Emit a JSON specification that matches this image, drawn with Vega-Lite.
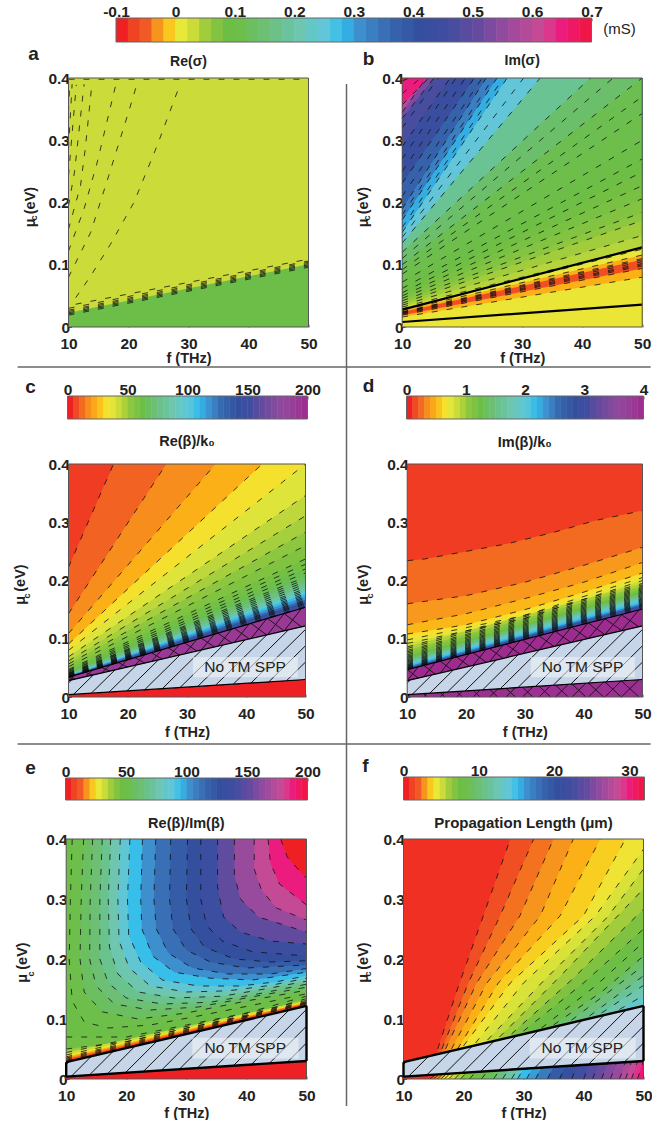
{"$schema":"https://vega.github.io/schema/vega-lite/v6.json","bounds":"flush","columns":2,"spacing":0,"padding":{"left":12.5,"top":4,"right":0,"bottom":0},
"resolve":{"scale":{"color":"independent","x":"independent","y":"independent"}},
"config":{"view":{"stroke":null},"font":"Liberation Sans","axis":{"labelFont":"Liberation Sans","labelFontWeight":"bold","labelFontSize":15.5,"labelColor":"#222","titleFont":"Liberation Sans","titleFontWeight":"bold","titleFontSize":14.5,"titleColor":"#222","domain":false,"grid":false,"tickColor":"#333","tickSize":-3,"tickWidth":0.8,"labelOverlap":false,"labelFlush":false}},
"datasets":{
"top":[{"a":-0.1,"b":-0.08},{"a":-0.08,"b":-0.06},{"a":-0.06,"b":-0.04},{"a":-0.04,"b":-0.02},{"a":-0.02,"b":0},{"a":0,"b":0.02},{"a":0.02,"b":0.04},{"a":0.04,"b":0.06},{"a":0.06,"b":0.08},{"a":0.08,"b":0.1},{"a":0.1,"b":0.12},{"a":0.12,"b":0.14},{"a":0.14,"b":0.16},{"a":0.16,"b":0.18},{"a":0.18,"b":0.2},{"a":0.2,"b":0.22},{"a":0.22,"b":0.24},{"a":0.24,"b":0.26},{"a":0.26,"b":0.28},{"a":0.28,"b":0.3},{"a":0.3,"b":0.32},{"a":0.32,"b":0.34},{"a":0.34,"b":0.36},{"a":0.36,"b":0.38},{"a":0.38,"b":0.4},{"a":0.4,"b":0.42},{"a":0.42,"b":0.44},{"a":0.44,"b":0.46},{"a":0.46,"b":0.48},{"a":0.48,"b":0.5},{"a":0.5,"b":0.52},{"a":0.52,"b":0.54},{"a":0.54,"b":0.56},{"a":0.56,"b":0.58},{"a":0.58,"b":0.6},{"a":0.6,"b":0.62},{"a":0.62,"b":0.64},{"a":0.64,"b":0.66},{"a":0.66,"b":0.68},{"a":0.68,"b":0.7}],
"s200":[{"a":0,"b":5},{"a":5,"b":10},{"a":10,"b":15},{"a":15,"b":20},{"a":20,"b":25},{"a":25,"b":30},{"a":30,"b":35},{"a":35,"b":40},{"a":40,"b":45},{"a":45,"b":50},{"a":50,"b":55},{"a":55,"b":60},{"a":60,"b":65},{"a":65,"b":70},{"a":70,"b":75},{"a":75,"b":80},{"a":80,"b":85},{"a":85,"b":90},{"a":90,"b":95},{"a":95,"b":100},{"a":100,"b":105},{"a":105,"b":110},{"a":110,"b":115},{"a":115,"b":120},{"a":120,"b":125},{"a":125,"b":130},{"a":130,"b":135},{"a":135,"b":140},{"a":140,"b":145},{"a":145,"b":150},{"a":150,"b":155},{"a":155,"b":160},{"a":160,"b":165},{"a":165,"b":170},{"a":170,"b":175},{"a":175,"b":180},{"a":180,"b":185},{"a":185,"b":190},{"a":190,"b":195},{"a":195,"b":200}],
"s4":[{"a":0,"b":0.1},{"a":0.1,"b":0.2},{"a":0.2,"b":0.3},{"a":0.3,"b":0.4},{"a":0.4,"b":0.5},{"a":0.5,"b":0.6},{"a":0.6,"b":0.7},{"a":0.7,"b":0.8},{"a":0.8,"b":0.9},{"a":0.9,"b":1},{"a":1,"b":1.1},{"a":1.1,"b":1.2},{"a":1.2,"b":1.3},{"a":1.3,"b":1.4},{"a":1.4,"b":1.5},{"a":1.5,"b":1.6},{"a":1.6,"b":1.7},{"a":1.7,"b":1.8},{"a":1.8,"b":1.9},{"a":1.9,"b":2},{"a":2,"b":2.1},{"a":2.1,"b":2.2},{"a":2.2,"b":2.3},{"a":2.3,"b":2.4},{"a":2.4,"b":2.5},{"a":2.5,"b":2.6},{"a":2.6,"b":2.7},{"a":2.7,"b":2.8},{"a":2.8,"b":2.9},{"a":2.9,"b":3},{"a":3,"b":3.1},{"a":3.1,"b":3.2},{"a":3.2,"b":3.3},{"a":3.3,"b":3.4},{"a":3.4,"b":3.5},{"a":3.5,"b":3.6},{"a":3.6,"b":3.7},{"a":3.7,"b":3.8},{"a":3.8,"b":3.9},{"a":3.9,"b":4}],
"s32":[{"a":0,"b":0.8},{"a":0.8,"b":1.6},{"a":1.6,"b":2.4},{"a":2.4,"b":3.2},{"a":3.2,"b":4},{"a":4,"b":4.8},{"a":4.8,"b":5.6},{"a":5.6,"b":6.4},{"a":6.4,"b":7.2},{"a":7.2,"b":8},{"a":8,"b":8.8},{"a":8.8,"b":9.6},{"a":9.6,"b":10.4},{"a":10.4,"b":11.2},{"a":11.2,"b":12},{"a":12,"b":12.8},{"a":12.8,"b":13.6},{"a":13.6,"b":14.4},{"a":14.4,"b":15.2},{"a":15.2,"b":16},{"a":16,"b":16.8},{"a":16.8,"b":17.6},{"a":17.6,"b":18.4},{"a":18.4,"b":19.2},{"a":19.2,"b":20},{"a":20,"b":20.8},{"a":20.8,"b":21.6},{"a":21.6,"b":22.4},{"a":22.4,"b":23.2},{"a":23.2,"b":24},{"a":24,"b":24.8},{"a":24.8,"b":25.6},{"a":25.6,"b":26.4},{"a":26.4,"b":27.2},{"a":27.2,"b":28},{"a":28,"b":28.8},{"a":28.8,"b":29.6},{"a":29.6,"b":30.4},{"a":30.4,"b":31.2},{"a":31.2,"b":32}],
"frame":[{"f":10,"m":0,"f2":50,"m2":0},{"f":10,"m":0.4,"f2":50,"m2":0.4},{"f":10,"m":0,"f2":10,"m2":0.4},{"f":50,"m":0,"f2":50,"m2":0.4}],
"box":[{"f":31,"f2":48.7,"m":0.034,"m2":0.0686}],
"notm":[{"f":39.8,"m":0.051,"t":"No TM SPP"}],
"tz":[{"f":10,"m":0.028,"m2":0.004},{"f":50,"m":0.122,"m2":0.03}],
"hatch":[{"f":10,"m":0.024,"f2":10.52,"m2":0.0292},{"f":10.856,"m":0.00456,"f2":14.18,"m2":0.0378},{"f":13.85,"m":0.0065,"f2":17.84,"m2":0.0464},{"f":16.84,"m":0.0084,"f2":21.5,"m2":0.055},{"f":19.84,"m":0.0104,"f2":25.16,"m2":0.0636},{"f":22.83,"m":0.0123,"f2":28.82,"m2":0.0722},{"f":25.83,"m":0.0143,"f2":32.48,"m2":0.0808},{"f":28.82,"m":0.0162,"f2":36.14,"m2":0.0894},{"f":31.82,"m":0.0182,"f2":39.8,"m2":0.098},{"f":34.81,"m":0.0201,"f2":43.46,"m2":0.1066},{"f":37.81,"m":0.0221,"f2":47.12,"m2":0.1152},{"f":40.8,"m":0.024,"f2":50,"m2":0.116},{"f":43.8,"m":0.026,"f2":50,"m2":0.088},{"f":46.79,"m":0.0279,"f2":50,"m2":0.06},{"f":49.79,"m":0.0299,"f2":50,"m2":0.032}],
"xc":[{"f":10,"m":0.028,"f2":11.1,"m2":0.0373},{"f":10,"m":0.034,"f2":11.1,"m2":0.0306},{"f":12.8,"m":0.0346,"f2":14.04,"m2":0.0461},{"f":12.8,"m":0.0424,"f2":14.04,"m2":0.0375},{"f":15.6,"m":0.0412,"f2":16.98,"m2":0.0549},{"f":15.6,"m":0.0508,"f2":16.98,"m2":0.0444},{"f":18.4,"m":0.0477,"f2":19.92,"m2":0.0638},{"f":18.4,"m":0.0592,"f2":19.92,"m2":0.0513},{"f":21.2,"m":0.0543,"f2":22.86,"m2":0.0726},{"f":21.2,"m":0.0676,"f2":22.86,"m2":0.0582},{"f":24,"m":0.0609,"f2":25.8,"m2":0.0814},{"f":24,"m":0.076,"f2":25.8,"m2":0.0651},{"f":26.8,"m":0.0675,"f2":28.74,"m2":0.0902},{"f":26.8,"m":0.0844,"f2":28.74,"m2":0.072},{"f":29.6,"m":0.0741,"f2":31.68,"m2":0.099},{"f":29.6,"m":0.0928,"f2":31.68,"m2":0.0789},{"f":32.4,"m":0.0806,"f2":34.62,"m2":0.1079},{"f":32.4,"m":0.1012,"f2":34.62,"m2":0.0859},{"f":35.2,"m":0.0872,"f2":37.56,"m2":0.1167},{"f":35.2,"m":0.1096,"f2":37.56,"m2":0.0928},{"f":38,"m":0.0938,"f2":40.5,"m2":0.1255},{"f":38,"m":0.118,"f2":40.5,"m2":0.0997},{"f":40.8,"m":0.1004,"f2":43.44,"m2":0.1343},{"f":40.8,"m":0.1264,"f2":43.44,"m2":0.1066},{"f":43.6,"m":0.107,"f2":46.38,"m2":0.1431},{"f":43.6,"m":0.1348,"f2":46.38,"m2":0.1135},{"f":46.4,"m":0.1135,"f2":49.32,"m2":0.152},{"f":46.4,"m":0.1432,"f2":49.32,"m2":0.1204}],
"xd":[{"f":10,"m":0.028,"f2":11.9,"m2":0.0519},{"f":10,"m":0.047,"f2":11.9,"m2":0.0325},{"f":12.8,"m":0.0346,"f2":14.78,"m2":0.0594},{"f":12.8,"m":0.0543,"f2":14.78,"m2":0.0392},{"f":15.6,"m":0.0412,"f2":17.67,"m2":0.0669},{"f":15.6,"m":0.0616,"f2":17.67,"m2":0.046},{"f":18.4,"m":0.0477,"f2":20.55,"m2":0.0744},{"f":18.4,"m":0.0688,"f2":20.55,"m2":0.0528},{"f":21.2,"m":0.0543,"f2":23.44,"m2":0.0819},{"f":21.2,"m":0.0761,"f2":23.44,"m2":0.0596},{"f":24,"m":0.0609,"f2":26.32,"m2":0.0894},{"f":24,"m":0.0834,"f2":26.32,"m2":0.0664},{"f":26.8,"m":0.0675,"f2":29.2,"m2":0.0969},{"f":26.8,"m":0.0907,"f2":29.2,"m2":0.0731},{"f":29.6,"m":0.0741,"f2":32.09,"m2":0.1044},{"f":29.6,"m":0.098,"f2":32.09,"m2":0.0799},{"f":32.4,"m":0.0806,"f2":34.97,"m2":0.1119},{"f":32.4,"m":0.1052,"f2":34.97,"m2":0.0867},{"f":35.2,"m":0.0872,"f2":37.86,"m2":0.1194},{"f":35.2,"m":0.1125,"f2":37.86,"m2":0.0935},{"f":38,"m":0.0938,"f2":40.74,"m2":0.1269},{"f":38,"m":0.1198,"f2":40.74,"m2":0.1002},{"f":40.8,"m":0.1004,"f2":43.62,"m2":0.1344},{"f":40.8,"m":0.1271,"f2":43.62,"m2":0.107},{"f":43.6,"m":0.107,"f2":46.51,"m2":0.1419},{"f":43.6,"m":0.1344,"f2":46.51,"m2":0.1138},{"f":46.4,"m":0.1135,"f2":49.39,"m2":0.1494},{"f":46.4,"m":0.1416,"f2":49.39,"m2":0.1206},
{"f":10,"m":0,"f2":10.4,"m2":0.00426},{"f":10,"m":0.004,"f2":10.4,"m2":0},{"f":12.8,"m":0,"f2":13.4,"m2":0.0062},{"f":12.8,"m":0.0058,"f2":13.4,"m2":0},{"f":15.6,"m":0,"f2":16.4,"m2":0.0082},{"f":15.6,"m":0.0076,"f2":16.4,"m2":0},{"f":18.4,"m":0,"f2":19.4,"m2":0.0101},{"f":18.4,"m":0.0095,"f2":19.4,"m2":0},{"f":21.2,"m":0,"f2":22.4,"m2":0.0121},{"f":21.2,"m":0.0113,"f2":22.4,"m2":0},{"f":24,"m":0,"f2":25.4,"m2":0.014},{"f":24,"m":0.0131,"f2":25.4,"m2":0},{"f":26.8,"m":0,"f2":28.4,"m2":0.016},{"f":26.8,"m":0.0149,"f2":28.4,"m2":0},{"f":29.6,"m":0,"f2":31.4,"m2":0.0179},{"f":29.6,"m":0.0167,"f2":31.4,"m2":0},{"f":32.4,"m":0,"f2":34.4,"m2":0.0199},{"f":32.4,"m":0.0186,"f2":34.4,"m2":0},{"f":35.2,"m":0,"f2":37.4,"m2":0.0218},{"f":35.2,"m":0.0204,"f2":37.4,"m2":0},{"f":38,"m":0,"f2":40.4,"m2":0.0238},{"f":38,"m":0.0222,"f2":40.4,"m2":0},{"f":40.8,"m":0,"f2":43.4,"m2":0.0257},{"f":40.8,"m":0.024,"f2":43.4,"m2":0},{"f":43.6,"m":0,"f2":46.4,"m2":0.0277},{"f":43.6,"m":0.0258,"f2":46.4,"m2":0},{"f":46.4,"m":0,"f2":49.4,"m2":0.0296},{"f":46.4,"m":0.0277,"f2":49.4,"m2":0}],
"ec":[{"f":10,"m":0.028,"f2":50,"m2":0.122},{"f":10,"m":0.004,"f2":50,"m2":0.03},{"f":10,"m":0.034,"f2":50,"m2":0.154}],
"ed":[{"f":10,"m":0.028,"f2":50,"m2":0.122},{"f":10,"m":0.004,"f2":50,"m2":0.03},{"f":10,"m":0.047,"f2":50,"m2":0.151}],
"ee":[{"f":10,"m":0.028,"f2":50,"m2":0.122},{"f":10,"m":0.004,"f2":50,"m2":0.03},{"f":10,"m":0.004,"f2":10,"m2":0.028},{"f":50,"m":0.03,"f2":50,"m2":0.122}],
"ta":[{"f":10,"m":0.023,"v":0.09},{"f":50,"m":0.101,"v":0.09}],
"tl":[{"v":1,"f":11.2,"m":0.047},{"v":1,"f":13.7,"m":0.082},{"v":1,"f":17,"m":0.133},{"v":1,"f":20.9,"m":0.2},{"v":1,"f":24.8,"m":0.292},{"v":1,"f":28.6,"m":0.39},
{"v":2,"f":10,"m":0.08},{"v":2,"f":13.7,"m":0.152},{"v":2,"f":16.7,"m":0.243},{"v":2,"f":20,"m":0.345},{"v":2,"f":21.4,"m":0.39},
{"v":3,"f":10,"m":0.122},{"v":3,"f":12.6,"m":0.19},{"v":3,"f":14.8,"m":0.265},{"v":3,"f":17.8,"m":0.386},
{"v":4,"f":10,"m":0.157},{"v":4,"f":12,"m":0.227},{"v":4,"f":12.8,"m":0.287},{"v":4,"f":13.9,"m":0.39},
{"v":5,"f":10,"m":0.195},{"v":5,"f":11,"m":0.249},{"v":5,"f":12.6,"m":0.39},
{"v":6,"f":10,"m":0.243},{"v":6,"f":11.3,"m":0.389},{"v":7,"f":10,"m":0.287},{"v":7,"f":10.6,"m":0.39},{"v":8,"f":10,"m":0.346},{"v":8,"f":10.2,"m":0.39},
{"v":9,"f":10,"m":0.398},{"v":9,"f":50,"m":0.398},
{"v":10,"f":11.2,"m":0.0366},{"v":10,"f":50,"m":0.109},
{"v":11,"f":10,"m":0.019},{"v":11,"f":50,"m":0.096},{"v":12,"f":10,"m":0.021},{"v":12,"f":50,"m":0.098},{"v":13,"f":10,"m":0.023},{"v":13,"f":50,"m":0.1},{"v":14,"f":10,"m":0.025},{"v":14,"f":50,"m":0.102},{"v":15,"f":10,"m":0.027},{"v":15,"f":50,"m":0.104},{"v":16,"f":10,"m":0.03},{"v":16,"f":50,"m":0.106}],
"tb":[{"v":0.64,"f":10,"m":0.395},{"v":0.64,"f":50,"m":0.577},{"v":0.58,"f":10,"m":0.357},{"v":0.58,"f":50,"m":0.745},{"v":0.52,"f":10,"m":0.345},{"v":0.52,"f":50,"m":0.895},{"v":0.46,"f":10,"m":0.335},{"v":0.46,"f":50,"m":0.825},{"v":0.42,"f":10,"m":0.29},{"v":0.42,"f":50,"m":0.84},{"v":0.36,"f":10,"m":0.231},{"v":0.36,"f":50,"m":0.794},{"v":0.32,"f":10,"m":0.19},{"v":0.32,"f":50,"m":0.79},{"v":0.28,"f":10,"m":0.172},{"v":0.28,"f":50,"m":0.749},{"v":0.24,"f":10,"m":0.152},{"v":0.24,"f":50,"m":0.719},{"v":0.17,"f":10,"m":0.135},{"v":0.17,"f":50,"m":0.596},{"v":0.13,"f":10,"m":0.12},{"v":0.13,"f":50,"m":0.477},{"v":0.105,"f":10,"m":0.1},{"v":0.105,"f":50,"m":0.4},{"v":0.1,"f":10,"m":0.085},{"v":0.1,"f":50,"m":0.343},{"v":0.09,"f":10,"m":0.072},{"v":0.09,"f":50,"m":0.3},{"v":0.08,"f":10,"m":0.062},{"v":0.08,"f":50,"m":0.27},{"v":0.075,"f":10,"m":0.055},{"v":0.075,"f":50,"m":0.249},{"v":0.07,"f":10,"m":0.05},{"v":0.07,"f":50,"m":0.227},{"v":0.06,"f":10,"m":0.046},{"v":0.06,"f":50,"m":0.206},{"v":0.05,"f":10,"m":0.042},{"v":0.05,"f":50,"m":0.184},{"v":0.04,"f":10,"m":0.038},{"v":0.04,"f":50,"m":0.171},{"v":0.03,"f":10,"m":0.035},{"v":0.03,"f":50,"m":0.147},{"v":0.012,"f":10,"m":0.032},{"v":0.012,"f":50,"m":0.128},{"v":-0.001,"f":10,"m":0.029},{"v":-0.001,"f":50,"m":0.125},{"v":-0.031,"f":10,"m":0.027},{"v":-0.031,"f":50,"m":0.1156},{"v":-0.07,"f":10,"m":0.024},{"v":-0.07,"f":50,"m":0.108},{"v":-0.03,"f":10,"m":0.019},{"v":-0.03,"f":50,"m":0.094},{"v":-0.002,"f":10,"m":0.016},{"v":-0.002,"f":50,"m":0.08}],
"txb":[{"v":1,"f":10,"m":0.375},{"v":1,"f":50,"m":0.7},{"v":2,"f":10,"m":0.32},{"v":2,"f":50,"m":0.85},{"v":3,"f":10,"m":0.27},{"v":3,"f":50,"m":0.85},{"v":4,"f":10,"m":0.25},{"v":4,"f":50,"m":0.82},{"v":5,"f":10,"m":0.21},{"v":5,"f":50,"m":0.78},{"v":6,"f":10,"m":0.18},{"v":6,"f":50,"m":0.76},{"v":7,"f":10,"m":0.16},{"v":7,"f":50,"m":0.73},{"v":8,"f":10,"m":0.144},{"v":8,"f":50,"m":0.65},{"v":9,"f":10,"m":0.11},{"v":9,"f":50,"m":0.44},{"v":10,"f":10,"m":0.092},{"v":10,"f":50,"m":0.37},{"v":11,"f":10,"m":0.0225},{"v":11,"f":50,"m":0.102},{"v":12,"f":10,"m":0.0215},{"v":12,"f":50,"m":0.1},{"v":13,"f":10,"m":0.0205},{"v":13,"f":50,"m":0.098},{"v":14,"f":10,"m":0.0235},{"v":14,"f":50,"m":0.105},{"v":15,"f":10,"m":0.0245},{"v":15,"f":50,"m":0.11}],
"sb":[{"f":10,"m":0.028,"f2":50,"m2":0.128},{"f":10,"m":0.008,"f2":50,"m2":0.036}],
"tc":[{"v":9,"f":10,"m":0.223},{"v":9,"f":50,"m":1.155},{"v":15,"f":10,"m":0.143},{"v":15,"f":50,"m":0.766},{"v":22,"f":10,"m":0.109},{"v":22,"f":50,"m":0.578},{"v":30,"f":10,"m":0.091},{"v":30,"f":50,"m":0.469},{"v":36,"f":10,"m":0.08},{"v":36,"f":50,"m":0.4},{"v":42,"f":10,"m":0.069},{"v":42,"f":50,"m":0.346},{"v":46,"f":10,"m":0.062},{"v":46,"f":50,"m":0.311},{"v":50,"f":10,"m":0.0566},{"v":50,"f":50,"m":0.283},{"v":54,"f":10,"m":0.052},{"v":54,"f":50,"m":0.26},{"v":58,"f":10,"m":0.0474},{"v":58,"f":50,"m":0.237},{"v":62,"f":10,"m":0.044},{"v":62,"f":50,"m":0.22},{"v":68,"f":10,"m":0.0412},{"v":68,"f":50,"m":0.206},{"v":74,"f":10,"m":0.04},{"v":74,"f":50,"m":0.198},{"v":82,"f":10,"m":0.0385},{"v":82,"f":50,"m":0.19},{"v":95,"f":10,"m":0.0375},{"v":95,"f":50,"m":0.183},{"v":106,"f":10,"m":0.0365},{"v":106,"f":50,"m":0.177},{"v":116,"f":10,"m":0.036},{"v":116,"f":50,"m":0.172},{"v":126,"f":10,"m":0.0355},{"v":126,"f":50,"m":0.167},{"v":140,"f":10,"m":0.035},{"v":140,"f":50,"m":0.163},{"v":150,"f":10,"m":0.0345},{"v":150,"f":50,"m":0.159},{"v":190,"f":10,"m":0.034},{"v":190,"f":50,"m":0.154},{"v":0,"f":10,"m":0.004},{"v":0,"f":50,"m":0.03}],
"txc":[{"v":1,"f":10,"m":0.0395},{"v":1,"f":50,"m":0.194},{"v":2,"f":10,"m":0.0379},{"v":2,"f":50,"m":0.186},{"v":3,"f":10,"m":0.037},{"v":3,"f":50,"m":0.18},{"v":4,"f":10,"m":0.0362},{"v":4,"f":50,"m":0.1745},{"v":5,"f":10,"m":0.0357},{"v":5,"f":50,"m":0.1695},{"v":6,"f":10,"m":0.0352},{"v":6,"f":50,"m":0.165},{"v":7,"f":10,"m":0.0347},{"v":7,"f":50,"m":0.161},{"v":8,"f":10,"m":0.0342},{"v":8,"f":50,"m":0.156},{"v":9,"f":10,"m":0.0407},{"v":9,"f":50,"m":0.202},{"v":10,"f":10,"m":0.0428},{"v":10,"f":50,"m":0.213},{"v":11,"f":10,"m":0.0457},{"v":11,"f":50,"m":0.228}],
"td":[{"v":0.2,"f":10,"m":0.234},{"v":0.2,"f":13,"m":0.237},{"v":0.2,"f":20,"m":0.25},{"v":0.2,"f":27,"m":0.263},{"v":0.2,"f":35,"m":0.283},{"v":0.2,"f":42,"m":0.303},{"v":0.2,"f":50,"m":0.32},{"v":0.34,"f":10,"m":0.16},{"v":0.34,"f":20,"m":0.174},{"v":0.34,"f":30,"m":0.197},{"v":0.34,"f":40,"m":0.226},{"v":0.34,"f":50,"m":0.257},{"v":0.46,"f":10,"m":0.124},{"v":0.46,"f":20,"m":0.143},{"v":0.46,"f":30,"m":0.169},{"v":0.46,"f":40,"m":0.197},{"v":0.46,"f":50,"m":0.231},{"v":0.6,"f":10,"m":0.108},{"v":0.6,"f":20,"m":0.124},{"v":0.6,"f":30,"m":0.15},{"v":0.6,"f":40,"m":0.18},{"v":0.6,"f":50,"m":0.213},{"v":0.7,"f":10,"m":0.098},{"v":0.7,"f":30,"m":0.14},{"v":0.7,"f":50,"m":0.205},{"v":0.8,"f":10,"m":0.092},{"v":0.8,"f":30,"m":0.135},{"v":0.8,"f":50,"m":0.2},{"v":0.9,"f":10,"m":0.086},{"v":0.9,"f":50,"m":0.195},{"v":1,"f":10,"m":0.08},{"v":1,"f":50,"m":0.19},{"v":1.1,"f":10,"m":0.075},{"v":1.1,"f":50,"m":0.186},{"v":1.2,"f":10,"m":0.07},{"v":1.2,"f":50,"m":0.182},{"v":1.4,"f":10,"m":0.066},{"v":1.4,"f":50,"m":0.178},{"v":1.6,"f":10,"m":0.062},{"v":1.6,"f":50,"m":0.174},{"v":1.8,"f":10,"m":0.059},{"v":1.8,"f":50,"m":0.17},{"v":2,"f":10,"m":0.056},{"v":2,"f":50,"m":0.167},{"v":2.12,"f":10,"m":0.054},{"v":2.12,"f":50,"m":0.164},{"v":2.4,"f":10,"m":0.052},{"v":2.4,"f":50,"m":0.161},{"v":2.8,"f":10,"m":0.05},{"v":2.8,"f":50,"m":0.158},{"v":3,"f":10,"m":0.049},{"v":3,"f":50,"m":0.155},{"v":3.95,"f":10,"m":0.047},{"v":3.95,"f":50,"m":0.151},{"v":3.9,"f":10,"m":0.004},{"v":3.9,"f":50,"m":0.03}],
"txd":[{"v":1,"f":10,"m":0.0833},{"v":1,"f":50,"m":0.1925},{"v":2,"f":10,"m":0.0775},{"v":2,"f":50,"m":0.188},{"v":3,"f":10,"m":0.0725},{"v":3,"f":50,"m":0.184},{"v":4,"f":10,"m":0.068},{"v":4,"f":50,"m":0.18},{"v":5,"f":10,"m":0.064},{"v":5,"f":50,"m":0.176},{"v":6,"f":10,"m":0.0605},{"v":6,"f":50,"m":0.172},{"v":7,"f":10,"m":0.0575},{"v":7,"f":50,"m":0.1685},{"v":8,"f":10,"m":0.055},{"v":8,"f":50,"m":0.1655},{"v":9,"f":10,"m":0.053},{"v":9,"f":50,"m":0.1625},{"v":10,"f":10,"m":0.051},{"v":10,"f":50,"m":0.1595},{"v":11,"f":10,"m":0.0495},{"v":11,"f":50,"m":0.1565},{"v":12,"f":10,"m":0.048},{"v":12,"f":50,"m":0.153}],
"te":[{"v":50,"f":11,"m":0.4},{"v":50,"f":10.7,"m":0.3},{"v":50,"f":10.5,"m":0.2},{"v":50,"f":11,"m":0.13},{"v":50,"f":13,"m":0.095},{"v":50,"f":17,"m":0.085},{"v":50,"f":24,"m":0.09},{"v":50,"f":32,"m":0.105},{"v":50,"f":42,"m":0.125},{"v":50,"f":50,"m":0.142},
{"v":55,"f":12.9,"m":0.4},{"v":55,"f":12.5,"m":0.3},{"v":55,"f":12.3,"m":0.2},{"v":55,"f":13,"m":0.145},{"v":55,"f":16,"m":0.112},{"v":55,"f":22,"m":0.1},{"v":55,"f":30,"m":0.11},{"v":55,"f":40,"m":0.13},{"v":55,"f":50,"m":0.148},
{"v":60,"f":14.4,"m":0.4},{"v":60,"f":14,"m":0.3},{"v":60,"f":13.9,"m":0.2},{"v":60,"f":15,"m":0.155},{"v":60,"f":18,"m":0.125},{"v":60,"f":24,"m":0.115},{"v":60,"f":32,"m":0.12},{"v":60,"f":41,"m":0.137},{"v":60,"f":50,"m":0.153},
{"v":66,"f":16,"m":0.4},{"v":66,"f":15.6,"m":0.3},{"v":66,"f":15.6,"m":0.2},{"v":66,"f":17,"m":0.16},{"v":66,"f":20,"m":0.135},{"v":66,"f":26,"m":0.125},{"v":66,"f":34,"m":0.128},{"v":66,"f":42,"m":0.142},{"v":66,"f":50,"m":0.158},
{"v":74,"f":17.4,"m":0.4},{"v":74,"f":17,"m":0.3},{"v":74,"f":17.2,"m":0.22},{"v":74,"f":18.6,"m":0.175},{"v":74,"f":22,"m":0.145},{"v":74,"f":28,"m":0.135},{"v":74,"f":36,"m":0.138},{"v":74,"f":43,"m":0.15},{"v":74,"f":50,"m":0.163},
{"v":84,"f":19,"m":0.4},{"v":84,"f":18.6,"m":0.3},{"v":84,"f":18.8,"m":0.23},{"v":84,"f":20.5,"m":0.185},{"v":84,"f":24,"m":0.155},{"v":84,"f":30,"m":0.145},{"v":84,"f":37,"m":0.147},{"v":84,"f":44,"m":0.156},{"v":84,"f":50,"m":0.168},
{"v":92,"f":20.6,"m":0.4},{"v":92,"f":20.2,"m":0.3},{"v":92,"f":20.4,"m":0.24},{"v":92,"f":22.4,"m":0.195},{"v":92,"f":26,"m":0.165},{"v":92,"f":32,"m":0.155},{"v":92,"f":39,"m":0.155},{"v":92,"f":45,"m":0.162},{"v":92,"f":50,"m":0.172},
{"v":100,"f":22.7,"m":0.4},{"v":100,"f":22.4,"m":0.3},{"v":100,"f":22.6,"m":0.25},{"v":100,"f":24.4,"m":0.205},{"v":100,"f":28,"m":0.178},{"v":100,"f":34,"m":0.168},{"v":100,"f":41,"m":0.165},{"v":100,"f":50,"m":0.178},
{"v":110,"f":24.9,"m":0.4},{"v":110,"f":24.6,"m":0.3},{"v":110,"f":25,"m":0.25},{"v":110,"f":27,"m":0.21},{"v":110,"f":31,"m":0.185},{"v":110,"f":37,"m":0.175},{"v":110,"f":44,"m":0.175},{"v":110,"f":50,"m":0.184},
{"v":118,"f":27.4,"m":0.4},{"v":118,"f":27.2,"m":0.3},{"v":118,"f":27.8,"m":0.25},{"v":118,"f":30,"m":0.215},{"v":118,"f":34,"m":0.195},{"v":118,"f":40,"m":0.185},{"v":118,"f":50,"m":0.19},
{"v":125,"f":30.2,"m":0.4},{"v":125,"f":30,"m":0.3},{"v":125,"f":30.8,"m":0.25},{"v":125,"f":33,"m":0.22},{"v":125,"f":38,"m":0.2},{"v":125,"f":44,"m":0.195},{"v":125,"f":50,"m":0.197},
{"v":132,"f":32.4,"m":0.4},{"v":132,"f":32.4,"m":0.3},{"v":132,"f":33.4,"m":0.255},{"v":132,"f":36,"m":0.23},{"v":132,"f":41,"m":0.212},{"v":132,"f":50,"m":0.205},
{"v":148,"f":35.2,"m":0.4},{"v":148,"f":35.2,"m":0.32},{"v":148,"f":36.2,"m":0.27},{"v":148,"f":39,"m":0.245},{"v":148,"f":44,"m":0.23},{"v":148,"f":50,"m":0.225},
{"v":162,"f":38,"m":0.4},{"v":162,"f":38,"m":0.34},{"v":162,"f":39,"m":0.3},{"v":162,"f":42,"m":0.27},{"v":162,"f":50,"m":0.245},
{"v":175,"f":41.3,"m":0.4},{"v":175,"f":41.3,"m":0.35},{"v":175,"f":42.5,"m":0.315},{"v":175,"f":45,"m":0.285},{"v":175,"f":50,"m":0.265},
{"v":185,"f":43.6,"m":0.4},{"v":185,"f":44,"m":0.36},{"v":185,"f":45.5,"m":0.325},{"v":185,"f":50,"m":0.29},
{"v":200,"f":45.7,"m":0.4},{"v":200,"f":46.8,"m":0.37},{"v":200,"f":49,"m":0.345},{"v":200,"f":50,"m":0.335}],
"tef":[{"v":44,"f":10,"m":0.07},{"v":44,"f":20,"m":0.07},{"v":44,"f":30,"m":0.09},{"v":44,"f":40,"m":0.11},{"v":44,"f":50,"m":0.138},{"v":36,"f":10,"m":0.05},{"v":36,"f":20,"m":0.062},{"v":36,"f":30,"m":0.085},{"v":36,"f":40,"m":0.105},{"v":36,"f":50,"m":0.134},{"v":30,"f":10,"m":0.044},{"v":30,"f":50,"m":0.131},{"v":24,"f":10,"m":0.04},{"v":24,"f":50,"m":0.129},{"v":18,"f":10,"m":0.037},{"v":18,"f":50,"m":0.128},{"v":14,"f":10,"m":0.035},{"v":14,"f":50,"m":0.127},{"v":8,"f":10,"m":0.033},{"v":8,"f":50,"m":0.126},{"v":3,"f":10,"m":0.031},{"v":3,"f":50,"m":0.125},{"v":0,"f":10,"m":0.004},{"v":0,"f":50,"m":0.03}],
"tf":[{"v":1.2,"f":15.7,"m":0.05},{"v":1.2,"f":19,"m":0.15},{"v":1.2,"f":23.3,"m":0.272},{"v":1.2,"f":27.8,"m":0.4},{"v":1.2,"f":50,"m":0.6},
{"v":1.9,"f":16.4,"m":0.05},{"v":1.9,"f":20.8,"m":0.16},{"v":1.9,"f":26.1,"m":0.272},{"v":1.9,"f":31.7,"m":0.4},{"v":1.9,"f":50,"m":0.6},
{"v":2.4,"f":17,"m":0.05},{"v":2.4,"f":22.2,"m":0.16},{"v":2.4,"f":29.4,"m":0.272},{"v":2.4,"f":35,"m":0.4},{"v":2.4,"f":50,"m":0.6},
{"v":2.8,"f":18,"m":0.05},{"v":2.8,"f":23.9,"m":0.16},{"v":2.8,"f":32.8,"m":0.272},{"v":2.8,"f":38.3,"m":0.4},{"v":2.8,"f":50,"m":0.6},
{"v":3.3,"f":19,"m":0.05},{"v":3.3,"f":25.8,"m":0.16},{"v":3.3,"f":36.1,"m":0.272},{"v":3.3,"f":42.8,"m":0.4},{"v":3.3,"f":50,"m":0.6},
{"v":3.8,"f":20,"m":0.055},{"v":3.8,"f":27.8,"m":0.16},{"v":3.8,"f":40,"m":0.272},{"v":3.8,"f":47,"m":0.4},{"v":3.8,"f":50,"m":0.6},
{"v":4.4,"f":22,"m":0.06},{"v":4.4,"f":30,"m":0.16},{"v":4.4,"f":42,"m":0.272},{"v":4.4,"f":50,"m":0.383},
{"v":5,"f":24,"m":0.065},{"v":5,"f":33,"m":0.16},{"v":5,"f":44,"m":0.27},{"v":5,"f":50,"m":0.35},
{"v":5.6,"f":26,"m":0.07},{"v":5.6,"f":36,"m":0.17},{"v":5.6,"f":50,"m":0.317},
{"v":6.55,"f":28,"m":0.075},{"v":6.55,"f":38,"m":0.165},{"v":6.55,"f":50,"m":0.283},
{"v":7.2,"f":30,"m":0.08},{"v":7.2,"f":40,"m":0.16},{"v":7.2,"f":50,"m":0.25},
{"v":8,"f":33,"m":0.085},{"v":8,"f":42,"m":0.155},{"v":8,"f":50,"m":0.228},
{"v":9,"f":35,"m":0.09},{"v":9,"f":43,"m":0.145},{"v":9,"f":50,"m":0.205},
{"v":10,"f":38,"m":0.098},{"v":10,"f":50,"m":0.189},{"v":11,"f":41,"m":0.105},{"v":11,"f":50,"m":0.172},{"v":12,"f":43,"m":0.11},{"v":12,"f":50,"m":0.156},{"v":13,"f":46,"m":0.116},{"v":13,"f":50,"m":0.139},
{"v":0.3,"f":10,"m":0.004},{"v":0.3,"f":50,"m":0.03},
{"v":1.7,"f":14.4,"m":0},{"v":1.7,"f":15.4,"m":0.0075},{"v":1.7,"f":50,"m":0.03},{"v":2.5,"f":15,"m":0},{"v":2.5,"f":16,"m":0.0079},{"v":2.5,"f":50,"m":0.03},{"v":2.85,"f":15.6,"m":0},{"v":2.85,"f":16.6,"m":0.0083},{"v":2.85,"f":50,"m":0.03},{"v":3.6,"f":16.2,"m":0},{"v":3.6,"f":17.2,"m":0.0087},{"v":3.6,"f":50,"m":0.03},{"v":4.05,"f":16.8,"m":0},{"v":4.05,"f":17.8,"m":0.0091},{"v":4.05,"f":50,"m":0.03},{"v":4.85,"f":17.5,"m":0},{"v":4.85,"f":18.5,"m":0.0095},{"v":4.85,"f":50,"m":0.03},{"v":5.5,"f":18.5,"m":0},{"v":5.5,"f":19.5,"m":0.0102},{"v":5.5,"f":50,"m":0.03},{"v":6.5,"f":19.5,"m":0},{"v":6.5,"f":20.5,"m":0.0108},{"v":6.5,"f":50,"m":0.03},{"v":7.5,"f":21,"m":0},{"v":7.5,"f":22,"m":0.0118},{"v":7.5,"f":50,"m":0.03},{"v":8.5,"f":23,"m":0},{"v":8.5,"f":24,"m":0.0131},{"v":8.5,"f":50,"m":0.03},{"v":10.1,"f":25,"m":0},{"v":10.1,"f":26,"m":0.0144},{"v":10.1,"f":50,"m":0.03},{"v":11.5,"f":26.5,"m":0},{"v":11.5,"f":27.5,"m":0.0154},{"v":11.5,"f":50,"m":0.03},{"v":13.1,"f":28,"m":0},{"v":13.1,"f":29,"m":0.0164},{"v":13.1,"f":50,"m":0.03},{"v":14.8,"f":29,"m":0},{"v":14.8,"f":30,"m":0.017},{"v":14.8,"f":50,"m":0.03},{"v":15.6,"f":30.5,"m":0},{"v":15.6,"f":31.5,"m":0.018},{"v":15.6,"f":50,"m":0.03},{"v":17,"f":32,"m":0},{"v":17,"f":33,"m":0.019},{"v":17,"f":50,"m":0.03},{"v":19,"f":34,"m":0},{"v":19,"f":35,"m":0.0203},{"v":19,"f":50,"m":0.03},{"v":20.5,"f":36,"m":0},{"v":20.5,"f":37,"m":0.0216},{"v":20.5,"f":50,"m":0.03},{"v":22,"f":38,"m":0},{"v":22,"f":39,"m":0.0229},{"v":22,"f":50,"m":0.03},{"v":23,"f":40,"m":0},{"v":23,"f":41,"m":0.0242},{"v":23,"f":50,"m":0.03},{"v":24,"f":41.5,"m":0},{"v":24,"f":42.5,"m":0.0251},{"v":24,"f":50,"m":0.03},{"v":25,"f":43,"m":0},{"v":25,"f":44,"m":0.0261},{"v":25,"f":50,"m":0.03},{"v":26,"f":44.5,"m":0},{"v":26,"f":45.5,"m":0.0271},{"v":26,"f":50,"m":0.03},{"v":27,"f":46,"m":0},{"v":27,"f":47,"m":0.0281},{"v":27,"f":50,"m":0.03},{"v":28,"f":47,"m":0},{"v":28,"f":48,"m":0.0287},{"v":28,"f":50,"m":0.03},{"v":29,"f":48,"m":0},{"v":29,"f":49,"m":0.0294},{"v":29,"f":50,"m":0.03},{"v":30,"f":49,"m":0},{"v":30,"f":50,"m":0.03}]
},
"concat":[
{"width":335,"height":60,"encoding":{"x":{"field":"a","type":"quantitative","scale":{"domain":[-0.1,0.7],"range":[50.5,526]},"axis":{"orient":"top","values":[-0.1,0,0.1,0.2,0.3,0.4,0.5,0.6,0.7],"labelExpr":"replace(format(datum.value,'.1~f'),'−','-')","title":null,"labelPadding":2}},"x2":{"field":"b"},"y":{"datum":0,"type":"quantitative","scale":{"domain":[0,1],"range":[24,0]},"axis":null},"y2":{"datum":1},"color":{"field":"a","type":"quantitative","legend":null,"scale":{"domain":[-0.1,-0.06,-0.04,-0.03,-0.01,0,0.02,0.05,0.08,0.1,0.15,0.2,0.24,0.27,0.3,0.35,0.4,0.45,0.5,0.55,0.6,0.64,0.67,0.7],"range":["#ee2024","#f15a24","#f7941e","#fbb017","#f5e02e","#e8e838","#cbdb3a","#8dc63f","#6dbe45","#6dbe4b","#6ebf7c","#6fc6b0","#62c6d8","#34bdea","#3d8fce","#3767ae","#344f9e","#414da0","#664a9f","#9a4a9d","#c44a96","#ec1c7f","#ee1c57","#ee2024"]}}},
"layer":[{"data":{"name":"top"},"mark":"rect"},{"data":{"name":"top"},"mark":"rect"},
{"data":{"values":[{"a":-0.1,"b":0.7}]},"mark":{"type":"rect","filled":false,"strokeWidth":1},"encoding":{"color":{"value":"#666"}}}]},
{"width":245,"height":60,"data":{"values":[{"p":0.894,"q":0.817,"t":"(mS)"}]},"mark":{"type":"text","fontSize":15,"font":"Liberation Sans","fill":"#222"},"encoding":{"x":{"field":"p","type":"quantitative","scale":{"domain":[0,1],"range":[0,245]},"axis":null},"y":{"field":"q","type":"quantitative","scale":{"domain":[0,1],"range":[60,0]},"axis":null},"text":{"field":"t"}}},

{"width":335,"height":249,"encoding":{"x":{"field":"f","type":"quantitative","scale":{"domain":[10,50],"range":[3,243]},"axis":{"values":[10,20,30,40,50],"title":"f (THz)","labelPadding":12,"titlePadding":0}},"y":{"field":"m","type":"quantitative","stack":null,"scale":{"domain":[0,0.4]},"axis":{"values":[0,0.1,0.2,0.3,0.4],"format":".1~f","title":"μ   (eV)","labelPadding":2,"titlePadding":10,"offset":-3,"titleY":128.5}},"color":{"field":"v","type":"quantitative","legend":null,"scale":{"domain":[-0.1,-0.06,-0.04,-0.03,-0.01,0,0.02,0.05,0.08,0.1,0.15,0.2,0.24,0.27,0.3,0.35,0.4,0.45,0.5,0.55,0.6,0.64,0.67,0.7],"range":["#ee2024","#f15a24","#f7941e","#fbb017","#f5e02e","#e8e838","#cbdb3a","#8dc63f","#6dbe45","#6dbe4b","#6ebf7c","#6fc6b0","#62c6d8","#34bdea","#3d8fce","#3767ae","#344f9e","#414da0","#664a9f","#9a4a9d","#c44a96","#ec1c7f","#ee1c57","#ee2024"]}}},
"layer":[
{"data":{"values":[{"f":10,"f2":50,"m":0.4,"m2":0,"v":0.02}]},"mark":"rect","encoding":{"x2":{"field":"f2"},"y2":{"field":"m2"}}},
{"data":{"name":"ta"},"mark":{"type":"area","clip":true},"encoding":{"y2":{"datum":0},"detail":{"field":"v"},"order":{"value":null}}},
{"data":{"name":"tl"},"mark":{"type":"line","clip":true,"strokeDash":[6,9],"strokeWidth":0.8},"encoding":{"detail":{"field":"v"},"order":{"value":null},"color":{"value":"#111"}}},
{"data":{"name":"frame"},"mark":{"type":"rule","strokeWidth":1},"encoding":{"x2":{"field":"f2"},"y2":{"field":"m2"},"color":{"value":"#555"}}},
{"data":{"values":[{"f":30,"m":0.4257,"t":"Re(σ)"}]},"mark":{"type":"text","fontSize":14,"fontWeight":"bold"},"encoding":{"text":{"field":"t"},"color":{"value":"#222"}}},
{"data":{"values":[{"f":4.17,"m":0.4386,"t":"a"}]},"mark":{"type":"text","fontSize":19,"fontWeight":"bold"},"encoding":{"text":{"field":"t"},"color":{"value":"#222"}}},
{"data":{"values":[{"f":4.17,"m":0.175,"t":"c"}]},"mark":{"type":"text","fontSize":9,"fontWeight":"bold","angle":270},"encoding":{"text":{"field":"t"},"color":{"value":"#222"}}}
]},

{"width":245,"height":249,"encoding":{"x":{"field":"f","type":"quantitative","scale":{"domain":[10,50],"range":[1.7,241.7]},"axis":{"values":[10,20,30,40,50],"title":"f (THz)","labelPadding":12,"titlePadding":0}},"y":{"field":"m","type":"quantitative","stack":null,"scale":{"domain":[0,0.4]},"axis":{"values":[0,0.1,0.2,0.3,0.4],"format":".1~f","title":"μ   (eV)","labelPadding":2,"titlePadding":10.7,"offset":-1.7,"titleY":128.5}},"color":{"field":"v","type":"quantitative","legend":null,"scale":{"domain":[-0.1,-0.06,-0.04,-0.03,-0.01,0,0.02,0.05,0.08,0.1,0.15,0.2,0.24,0.27,0.3,0.35,0.4,0.45,0.5,0.55,0.6,0.64,0.67,0.7],"range":["#ee2024","#f15a24","#f7941e","#fbb017","#f5e02e","#e8e838","#cbdb3a","#8dc63f","#6dbe45","#6dbe4b","#6ebf7c","#6fc6b0","#62c6d8","#34bdea","#3d8fce","#3767ae","#344f9e","#414da0","#664a9f","#9a4a9d","#c44a96","#ec1c7f","#ee1c57","#ee2024"]}}},
"layer":[
{"data":{"values":[{"f":10,"f2":50,"m":0.4,"m2":0,"v":0.69}]},"mark":"rect","encoding":{"x2":{"field":"f2"},"y2":{"field":"m2"}}},
{"data":{"name":"tb"},"mark":{"type":"area","clip":true},"encoding":{"y2":{"datum":0},"detail":{"field":"v"},"order":{"value":null}}},
{"data":{"name":"tb"},"mark":{"type":"line","clip":true,"strokeDash":[6,9],"strokeWidth":0.8},"encoding":{"detail":{"field":"v"},"order":{"value":null},"color":{"value":"#111"}}},
{"data":{"name":"txb"},"mark":{"type":"line","clip":true,"strokeDash":[6,9],"strokeWidth":0.8},"encoding":{"detail":{"field":"v"},"order":{"value":null},"color":{"value":"#111"}}},
{"data":{"name":"sb"},"mark":{"type":"rule","strokeWidth":2.2},"encoding":{"x2":{"field":"f2"},"y2":{"field":"m2"},"color":{"value":"#000"}}},
{"data":{"name":"frame"},"mark":{"type":"rule","strokeWidth":1},"encoding":{"x2":{"field":"f2"},"y2":{"field":"m2"},"color":{"value":"#555"}}},
{"data":{"values":[{"f":0.717,"f2":0.717,"m":0.3904,"m2":-1.2514},{"f":-54.1,"f2":51.4,"m":-0.0643,"m2":-0.0643},{"f":-54.1,"f2":51.4,"m":-0.6699,"m2":-0.6699}]},"mark":{"type":"rule","strokeWidth":1.5},"encoding":{"x2":{"field":"f2"},"y2":{"field":"m2"},"color":{"value":"#666"}}},
{"data":{"values":[{"f":30,"m":0.4273,"t":"Im(σ)"}]},"mark":{"type":"text","fontSize":14,"fontWeight":"bold"},"encoding":{"text":{"field":"t"},"color":{"value":"#222"}}},
{"data":{"values":[{"f":4.38,"m":0.4305,"t":"b"}]},"mark":{"type":"text","fontSize":19,"fontWeight":"bold"},"encoding":{"text":{"field":"t"},"color":{"value":"#222"}}},
{"data":{"values":[{"f":4.2,"m":0.175,"t":"c"}]},"mark":{"type":"text","fontSize":9,"fontWeight":"bold","angle":270},"encoding":{"text":{"field":"t"},"color":{"value":"#222"}}}
]},

{"width":335,"height":137,"encoding":{"x":{"field":"a","type":"quantitative","scale":{"domain":[0,200],"range":[2,242]},"axis":{"orient":"top","offset":-69,"values":[0,50,100,150,200],"title":null,"labelPadding":2}},"x2":{"field":"b"},"y":{"datum":0,"type":"quantitative","scale":{"domain":[0,1],"range":[92,69]},"axis":null},"y2":{"datum":1},"color":{"field":"a","type":"quantitative","legend":null,"scale":{"domain":[0,8,16,22,30,34,40,50,60,72,86,98,106,116,126,140,150,160,176,200],"range":["#ee2024","#f15a24","#f7941e","#fbb017","#f5e02e","#e8e838","#cbdb3a","#8dc63f","#6dbe45","#6ebf7c","#6fc6b0","#62c6d8","#34bdea","#3d8fce","#3767ae","#344f9e","#414da0","#664a9f","#8f4a9d","#a0268e"]}}},
"layer":[{"data":{"name":"s200"},"mark":"rect"},{"data":{"name":"s200"},"mark":"rect"},
{"data":{"values":[{"a":0,"b":200}]},"mark":{"type":"rect","filled":false,"strokeWidth":1},"encoding":{"color":{"value":"#666"}}}]},

{"width":245,"height":137,"encoding":{"x":{"field":"a","type":"quantitative","scale":{"domain":[0,4],"range":[6,243]},"axis":{"orient":"top","offset":-69,"values":[0,1,2,3,4],"title":null,"labelPadding":2}},"x2":{"field":"b"},"y":{"datum":0,"type":"quantitative","scale":{"domain":[0,1],"range":[92,69]},"axis":null},"y2":{"datum":1},"color":{"field":"a","type":"quantitative","legend":null,"scale":{"domain":[0,0.16,0.32,0.44,0.6,0.68,0.8,1,1.2,1.44,1.72,1.96,2.12,2.32,2.52,2.8,3,3.2,3.52,4],"range":["#ee2024","#f15a24","#f7941e","#fbb017","#f5e02e","#e8e838","#cbdb3a","#8dc63f","#6dbe45","#6ebf7c","#6fc6b0","#62c6d8","#34bdea","#3d8fce","#3767ae","#344f9e","#414da0","#664a9f","#8f4a9d","#a0268e"]}}},
"layer":[{"data":{"name":"s4"},"mark":"rect"},{"data":{"name":"s4"},"mark":"rect"},
{"data":{"values":[{"a":0,"b":4}]},"mark":{"type":"rect","filled":false,"strokeWidth":1},"encoding":{"color":{"value":"#666"}}}]},

{"width":335,"height":233,"encoding":{"x":{"field":"f","type":"quantitative","scale":{"domain":[10,50],"range":[3,240]},"axis":{"values":[10,20,30,40,50],"title":"f (THz)","labelPadding":12,"titlePadding":4}},"y":{"field":"m","type":"quantitative","stack":null,"scale":{"domain":[0,0.4]},"axis":{"values":[0,0.1,0.2,0.3,0.4],"format":".1~f","title":"μ   (eV)","labelPadding":2,"titlePadding":20,"offset":-3,"titleY":120}},"color":{"field":"v","type":"quantitative","legend":null,"scale":{"domain":[0,8,16,22,30,34,40,50,60,72,86,98,106,116,126,140,150,160,176,200],"range":["#ee2024","#f15a24","#f7941e","#fbb017","#f5e02e","#e8e838","#cbdb3a","#8dc63f","#6dbe45","#6ebf7c","#6fc6b0","#62c6d8","#34bdea","#3d8fce","#3767ae","#344f9e","#414da0","#664a9f","#8f4a9d","#a0268e"]}}},
"layer":[
{"data":{"values":[{"f":10,"f2":50,"m":0.4,"m2":0,"v":3}]},"mark":"rect","encoding":{"x2":{"field":"f2"},"y2":{"field":"m2"}}},
{"data":{"name":"tc"},"mark":{"type":"area","clip":true},"encoding":{"y2":{"datum":0},"detail":{"field":"v"},"order":{"value":null}}},
{"data":{"name":"tc"},"mark":{"type":"line","clip":true,"strokeDash":[6,9],"strokeWidth":0.8},"encoding":{"detail":{"field":"v"},"order":{"value":null},"color":{"value":"#111"}}},
{"data":{"name":"txc"},"mark":{"type":"line","clip":true,"strokeDash":[6,9],"strokeWidth":0.8},"encoding":{"detail":{"field":"v"},"order":{"value":null},"color":{"value":"#111"}}},
{"data":{"name":"tz"},"mark":{"type":"area"},"encoding":{"y2":{"field":"m2"},"color":{"value":"#c6d5e7"}}},
{"data":{"name":"hatch"},"mark":{"type":"rule","strokeWidth":1},"encoding":{"x2":{"field":"f2"},"y2":{"field":"m2"},"color":{"value":"#111"}}},
{"data":{"name":"xc"},"mark":{"type":"rule","strokeWidth":0.9},"encoding":{"x2":{"field":"f2"},"y2":{"field":"m2"},"color":{"value":"#111"}}},
{"data":{"name":"box"},"mark":{"type":"rect","opacity":0.55},"encoding":{"x2":{"field":"f2"},"y2":{"field":"m2"},"color":{"value":"#f4f6f8"}}},
{"data":{"name":"notm"},"mark":{"type":"text","fontSize":15.5},"encoding":{"text":{"field":"t"},"color":{"value":"#222"}}},
{"data":{"name":"ec"},"mark":{"type":"rule","strokeWidth":1.2},"encoding":{"x2":{"field":"f2"},"y2":{"field":"m2"},"color":{"value":"#000"}}},
{"data":{"name":"frame"},"mark":{"type":"rule","strokeWidth":1},"encoding":{"x2":{"field":"f2"},"y2":{"field":"m2"},"color":{"value":"#555"}}},
{"data":{"values":[{"f":30,"m":0.4378,"t":"Re(β)/k₀"}]},"mark":{"type":"text","fontSize":14.5,"fontWeight":"bold"},"encoding":{"text":{"field":"t"},"color":{"value":"#222"}}},
{"data":{"values":[{"f":3.59,"m":0.5322,"t":"c"}]},"mark":{"type":"text","fontSize":19,"fontWeight":"bold"},"encoding":{"text":{"field":"t"},"color":{"value":"#222"}}},
{"data":{"values":[{"f":3.08,"m":0.1734,"t":"c"}]},"mark":{"type":"text","fontSize":9,"fontWeight":"bold","angle":270},"encoding":{"text":{"field":"t"},"color":{"value":"#222"}}}
]},

{"width":245,"height":233,"encoding":{"x":{"field":"f","type":"quantitative","scale":{"domain":[10,50],"range":[6.7,242]},"axis":{"values":[10,20,30,40,50],"title":"f (THz)","labelPadding":12,"titlePadding":4}},"y":{"field":"m","type":"quantitative","stack":null,"scale":{"domain":[0,0.4]},"axis":{"values":[0,0.1,0.2,0.3,0.4],"format":".1~f","title":"μ   (eV)","labelPadding":2,"titlePadding":15.7,"offset":-6.7,"titleY":120}},"color":{"field":"v","type":"quantitative","legend":null,"scale":{"domain":[0,0.16,0.32,0.44,0.6,0.68,0.8,1,1.2,1.44,1.72,1.96,2.12,2.32,2.52,2.8,3,3.2,3.52,4],"range":["#ee2024","#f15a24","#f7941e","#fbb017","#f5e02e","#e8e838","#cbdb3a","#8dc63f","#6dbe45","#6ebf7c","#6fc6b0","#62c6d8","#34bdea","#3d8fce","#3767ae","#344f9e","#414da0","#664a9f","#8f4a9d","#a0268e"]}}},
"layer":[
{"data":{"values":[{"f":10,"f2":50,"m":0.4,"m2":0,"v":0.06}]},"mark":"rect","encoding":{"x2":{"field":"f2"},"y2":{"field":"m2"}}},
{"data":{"name":"td"},"mark":{"type":"area","clip":true},"encoding":{"y2":{"datum":0},"detail":{"field":"v"},"order":{"value":null}}},
{"data":{"name":"td"},"mark":{"type":"line","clip":true,"strokeDash":[6,9],"strokeWidth":0.8},"encoding":{"detail":{"field":"v"},"order":{"value":null},"color":{"value":"#111"}}},
{"data":{"name":"txd"},"mark":{"type":"line","clip":true,"strokeDash":[6,9],"strokeWidth":0.8},"encoding":{"detail":{"field":"v"},"order":{"value":null},"color":{"value":"#111"}}},
{"data":{"name":"tz"},"mark":{"type":"area"},"encoding":{"y2":{"field":"m2"},"color":{"value":"#c6d5e7"}}},
{"data":{"name":"hatch"},"mark":{"type":"rule","strokeWidth":1},"encoding":{"x2":{"field":"f2"},"y2":{"field":"m2"},"color":{"value":"#111"}}},
{"data":{"name":"xd"},"mark":{"type":"rule","strokeWidth":0.9},"encoding":{"x2":{"field":"f2"},"y2":{"field":"m2"},"color":{"value":"#111"}}},
{"data":{"name":"box"},"mark":{"type":"rect","opacity":0.55},"encoding":{"x2":{"field":"f2"},"y2":{"field":"m2"},"color":{"value":"#f4f6f8"}}},
{"data":{"name":"notm"},"mark":{"type":"text","fontSize":15.5},"encoding":{"text":{"field":"t"},"color":{"value":"#222"}}},
{"data":{"name":"ed"},"mark":{"type":"rule","strokeWidth":1.2},"encoding":{"x2":{"field":"f2"},"y2":{"field":"m2"},"color":{"value":"#000"}}},
{"data":{"name":"frame"},"mark":{"type":"rule","strokeWidth":1},"encoding":{"x2":{"field":"f2"},"y2":{"field":"m2"},"color":{"value":"#555"}}},
{"data":{"values":[{"f":30,"m":0.4361,"t":"Im(β)/k₀"}]},"mark":{"type":"text","fontSize":14.5,"fontWeight":"bold"},"encoding":{"text":{"field":"t"},"color":{"value":"#222"}}},
{"data":{"values":[{"f":3.42,"m":0.5339,"t":"d"}]},"mark":{"type":"text","fontSize":19,"fontWeight":"bold"},"encoding":{"text":{"field":"t"},"color":{"value":"#222"}}},
{"data":{"values":[{"f":3.76,"m":0.1734,"t":"c"}]},"mark":{"type":"text","fontSize":9,"fontWeight":"bold","angle":270},"encoding":{"text":{"field":"t"},"color":{"value":"#222"}}}
]},

{"width":335,"height":142,"encoding":{"x":{"field":"a","type":"quantitative","scale":{"domain":[0,200],"range":[0,242]},"axis":{"orient":"top","offset":-81,"values":[0,50,100,150,200],"title":null,"labelPadding":2}},"x2":{"field":"b"},"y":{"datum":0,"type":"quantitative","scale":{"domain":[0,1],"range":[103,81]},"axis":null},"y2":{"datum":1},"color":{"field":"a","type":"quantitative","legend":null,"scale":{"domain":[0,10,15,17.5,22.5,25,30,37.5,45,50,62.5,75,85,92.5,100,112.5,125,137.5,150,162.5,175,185,192.5,200],"range":["#ee2024","#f15a24","#f7941e","#fbb017","#f5e02e","#e8e838","#cbdb3a","#8dc63f","#6dbe45","#6dbe4b","#6ebf7c","#6fc6b0","#62c6d8","#34bdea","#3d8fce","#3767ae","#344f9e","#414da0","#664a9f","#9a4a9d","#c44a96","#ec1c7f","#ee1c57","#ee2024"]}}},
"layer":[{"data":{"name":"s200"},"mark":"rect"},{"data":{"name":"s200"},"mark":"rect"},
{"data":{"values":[{"a":0,"b":200}]},"mark":{"type":"rect","filled":false,"strokeWidth":1},"encoding":{"color":{"value":"#666"}}}]},

{"width":245,"height":142,"encoding":{"x":{"field":"a","type":"quantitative","scale":{"domain":[0,32],"range":[3,244]},"axis":{"orient":"top","offset":-80,"values":[0,10,20,30],"title":null,"labelPadding":2}},"x2":{"field":"b"},"y":{"datum":0,"type":"quantitative","scale":{"domain":[0,1],"range":[103,80]},"axis":null},"y2":{"datum":1},"color":{"field":"a","type":"quantitative","legend":null,"scale":{"domain":[0,1.6,2.4,2.8,3.6,4,4.8,6,7.2,8,10,12,13.6,14.8,16,18,20,22,24,26,28,29.6,30.8,32],"range":["#ee2024","#f15a24","#f7941e","#fbb017","#f5e02e","#e8e838","#cbdb3a","#8dc63f","#6dbe45","#6dbe4b","#6ebf7c","#6fc6b0","#62c6d8","#34bdea","#3d8fce","#3767ae","#344f9e","#414da0","#664a9f","#9a4a9d","#c44a96","#ec1c7f","#ee1c57","#ee2024"]}}},
"layer":[{"data":{"name":"s32"},"mark":"rect"},{"data":{"name":"s32"},"mark":"rect"},
{"data":{"values":[{"a":0,"b":32}]},"mark":{"type":"rect","filled":false,"strokeWidth":1},"encoding":{"color":{"value":"#666"}}}]},

{"width":335,"height":240,"encoding":{"x":{"field":"f","type":"quantitative","scale":{"domain":[10,50],"range":[0.7,241]},"axis":{"values":[10,20,30,40,50],"title":"f (THz)","labelPadding":12,"titlePadding":3}},"y":{"field":"m","type":"quantitative","stack":null,"scale":{"domain":[0,0.4]},"axis":{"values":[0,0.1,0.2,0.3,0.4],"format":".1~f","title":"μ   (eV)","labelPadding":2,"titlePadding":15.7,"offset":-0.7,"titleY":123}},"color":{"field":"v","type":"quantitative","legend":null,"scale":{"domain":[0,10,15,17.5,22.5,25,30,37.5,45,50,62.5,75,85,92.5,100,112.5,125,137.5,150,162.5,175,185,192.5,200],"range":["#ee2024","#f15a24","#f7941e","#fbb017","#f5e02e","#e8e838","#cbdb3a","#8dc63f","#6dbe45","#6dbe4b","#6ebf7c","#6fc6b0","#62c6d8","#34bdea","#3d8fce","#3767ae","#344f9e","#414da0","#664a9f","#9a4a9d","#c44a96","#ec1c7f","#ee1c57","#ee2024"]}}},
"layer":[
{"data":{"values":[{"f":10,"f2":50,"m":0.4,"m2":0,"v":47}]},"mark":"rect","encoding":{"x2":{"field":"f2"},"y2":{"field":"m2"}}},
{"data":{"name":"te"},"mark":{"type":"area","clip":true},"encoding":{"y2":{"datum":0.4},"detail":{"field":"v"},"order":{"value":null}}},
{"data":{"name":"te"},"mark":{"type":"line","clip":true,"strokeDash":[6,9],"strokeWidth":0.8},"encoding":{"detail":{"field":"v"},"order":{"value":null},"color":{"value":"#111"}}},
{"data":{"name":"tef"},"mark":{"type":"area","clip":true},"encoding":{"y2":{"datum":0},"detail":{"field":"v"},"order":{"value":null}}},
{"data":{"name":"tef"},"mark":{"type":"line","clip":true,"strokeDash":[6,9],"strokeWidth":0.8},"encoding":{"detail":{"field":"v"},"order":{"value":null},"color":{"value":"#111"}}},
{"data":{"name":"tz"},"mark":{"type":"area"},"encoding":{"y2":{"field":"m2"},"color":{"value":"#c6d5e7"}}},
{"data":{"name":"hatch"},"mark":{"type":"rule","strokeWidth":1},"encoding":{"x2":{"field":"f2"},"y2":{"field":"m2"},"color":{"value":"#111"}}},
{"data":{"name":"box"},"mark":{"type":"rect","opacity":0.55},"encoding":{"x2":{"field":"f2"},"y2":{"field":"m2"},"color":{"value":"#f4f6f8"}}},
{"data":{"name":"notm"},"mark":{"type":"text","fontSize":15.5},"encoding":{"text":{"field":"t"},"color":{"value":"#222"}}},
{"data":{"name":"frame"},"mark":{"type":"rule","strokeWidth":1},"encoding":{"x2":{"field":"f2"},"y2":{"field":"m2"},"color":{"value":"#555"}}},
{"data":{"name":"ee"},"mark":{"type":"rule","strokeWidth":2.4},"encoding":{"x2":{"field":"f2"},"y2":{"field":"m2"},"color":{"value":"#000"}}},
{"data":{"values":[{"f":30,"m":0.425,"t":"Re(β)/Im(β)"}]},"mark":{"type":"text","fontSize":14.5,"fontWeight":"bold"},"encoding":{"text":{"field":"t"},"color":{"value":"#222"}}},
{"data":{"values":[{"f":4.06,"m":0.5183,"t":"e"}]},"mark":{"type":"text","fontSize":19,"fontWeight":"bold"},"encoding":{"text":{"field":"t"},"color":{"value":"#222"}}},
{"data":{"values":[{"f":4.06,"m":0.175,"t":"c"}]},"mark":{"type":"text","fontSize":9,"fontWeight":"bold","angle":270},"encoding":{"text":{"field":"t"},"color":{"value":"#222"}}}
]},

{"width":245,"height":240,"encoding":{"x":{"field":"f","type":"quantitative","scale":{"domain":[10,50],"range":[3,243]},"axis":{"values":[10,20,30,40,50],"title":"f (THz)","labelPadding":12,"titlePadding":3}},"y":{"field":"m","type":"quantitative","stack":null,"scale":{"domain":[0,0.4]},"axis":{"values":[0,0.1,0.2,0.3,0.4],"format":".1~f","title":"μ   (eV)","labelPadding":2,"titlePadding":12,"offset":-3,"titleY":123}},"color":{"field":"v","type":"quantitative","legend":null,"scale":{"domain":[0,1.6,2.4,2.8,3.6,4,4.8,6,7.2,8,10,12,13.6,14.8,16,18,20,22,24,26,28,29.6,30.8,32],"range":["#ee2024","#f15a24","#f7941e","#fbb017","#f5e02e","#e8e838","#cbdb3a","#8dc63f","#6dbe45","#6dbe4b","#6ebf7c","#6fc6b0","#62c6d8","#34bdea","#3d8fce","#3767ae","#344f9e","#414da0","#664a9f","#9a4a9d","#c44a96","#ec1c7f","#ee1c57","#ee2024"]}}},
"layer":[
{"data":{"values":[{"f":10,"f2":50,"m":0.4,"m2":0,"v":0.3}]},"mark":"rect","encoding":{"x2":{"field":"f2"},"y2":{"field":"m2"}}},
{"data":{"name":"tf"},"mark":{"type":"area","clip":true},"encoding":{"y2":{"datum":0},"detail":{"field":"v"},"order":{"value":null}}},
{"data":{"name":"tf"},"mark":{"type":"line","clip":true,"strokeDash":[6,9],"strokeWidth":0.8},"encoding":{"detail":{"field":"v"},"order":{"value":null},"color":{"value":"#111"}}},
{"data":{"name":"tz"},"mark":{"type":"area"},"encoding":{"y2":{"field":"m2"},"color":{"value":"#c6d5e7"}}},
{"data":{"name":"hatch"},"mark":{"type":"rule","strokeWidth":1},"encoding":{"x2":{"field":"f2"},"y2":{"field":"m2"},"color":{"value":"#111"}}},
{"data":{"name":"box"},"mark":{"type":"rect","opacity":0.55},"encoding":{"x2":{"field":"f2"},"y2":{"field":"m2"},"color":{"value":"#f4f6f8"}}},
{"data":{"name":"notm"},"mark":{"type":"text","fontSize":15.5},"encoding":{"text":{"field":"t"},"color":{"value":"#222"}}},
{"data":{"name":"frame"},"mark":{"type":"rule","strokeWidth":1},"encoding":{"x2":{"field":"f2"},"y2":{"field":"m2"},"color":{"value":"#555"}}},
{"data":{"name":"ee"},"mark":{"type":"rule","strokeWidth":2.4},"encoding":{"x2":{"field":"f2"},"y2":{"field":"m2"},"color":{"value":"#000"}}},
{"data":{"values":[{"f":30,"m":0.4267,"t":"Propagation Length (μm)"}]},"mark":{"type":"text","fontSize":15,"fontWeight":"bold"},"encoding":{"text":{"field":"t"},"color":{"value":"#222"}}},
{"data":{"values":[{"f":3.67,"m":0.5217,"t":"f"}]},"mark":{"type":"text","fontSize":19,"fontWeight":"bold"},"encoding":{"text":{"field":"t"},"color":{"value":"#222"}}},
{"data":{"values":[{"f":4,"m":0.175,"t":"c"}]},"mark":{"type":"text","fontSize":9,"fontWeight":"bold","angle":270},"encoding":{"text":{"field":"t"},"color":{"value":"#222"}}}
]}
]}
